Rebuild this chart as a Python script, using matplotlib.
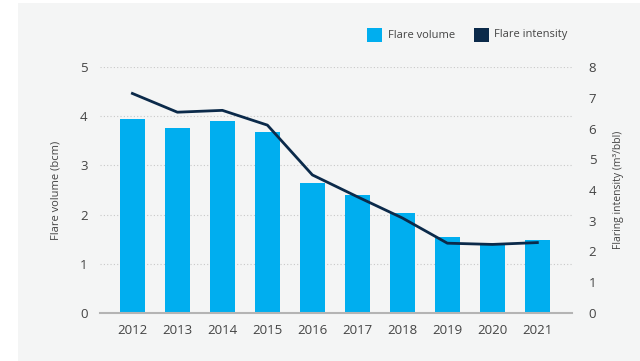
import matplotlib
matplotlib.use("Agg")
import matplotlib.pyplot as plt
from matplotlib.patches import Rectangle

plt.rcParams['font.family'] = ['Open Sans', 'DejaVu Sans']

years = ['2012', '2013', '2014', '2015', '2016', '2017', '2018', '2019', '2020', '2021']
flare_volume = [3.94, 3.76, 3.91, 3.68, 2.64, 2.40, 2.03, 1.54, 1.42, 1.48]
flare_intensity = [7.14, 6.53, 6.59, 6.11, 4.49, 3.78, 3.09, 2.27, 2.23, 2.29]
left_ticks = [0, 1, 2, 3, 4, 5]
right_ticks = [0, 1, 2, 3, 4, 5, 6, 7, 8]

BAR = '#00aeef'
LINE = '#0b2a4a'
TEXT = '#444444'
PANEL = '#f4f5f5'

W, H = 640, 361
fig = plt.figure(figsize=(W / 100, H / 100), dpi=100)
fig.patch.set_facecolor('white')
fig.add_artist(Rectangle((18 / W, 0), 1 - 18 / W, 358 / H, transform=fig.transFigure,
                         facecolor=PANEL, edgecolor='none', zorder=-10))

ax = fig.add_axes([100 / W, 48 / H, 472 / W, 246 / H])
ax.set_facecolor('none')
x = list(range(len(years)))
ax.bar(x, flare_volume, width=0.555, color=BAR, zorder=2)
ax.set_xlim(-0.72, 9.77)
ax.set_ylim(0, 5)
ax.set_yticks(left_ticks)
ax.set_xticks(x)
ax.set_xticklabels(years)
for s in ['top', 'right', 'left']:
    ax.spines[s].set_visible(False)
ax.spines['bottom'].set_color('#b4b4b4')
ax.spines['bottom'].set_linewidth(1.5)
ax.tick_params(axis='both', length=0, labelsize=9.5, labelcolor=TEXT)
ax.tick_params(axis='x', pad=8)
ax.tick_params(axis='y', pad=9)
for t in left_ticks[1:]:
    ax.axhline(t, color='#c8c8c8', lw=0.8, ls=(0, (1, 2)), zorder=1)
ax.set_ylabel('Flare volume (bcm)', fontsize=8, color=TEXT, labelpad=13)

ax2 = ax.twinx()
ax2.set_facecolor('none')
ax2.plot(x, flare_intensity, color=LINE, lw=2, zorder=3)
ax2.set_ylim(0, 8)
ax2.set_yticks(right_ticks)
for s in ax2.spines.values():
    s.set_visible(False)
ax2.tick_params(axis='y', length=0, labelsize=9.5, labelcolor=TEXT, pad=12)
ax2.set_ylabel('Flaring intensity (m³/bbl)', fontsize=7.5, color=TEXT, labelpad=12)

# legend
fig.add_artist(Rectangle((367 / W, 1 - 42 / H), 15 / W, 14 / H, transform=fig.transFigure,
                         facecolor=BAR, edgecolor='none'))
fig.text(388 / W, 1 - 35 / H, 'Flare volume', fontsize=8, color=TEXT, va='center')
fig.add_artist(Rectangle((474 / W, 1 - 42 / H), 15 / W, 14 / H, transform=fig.transFigure,
                         facecolor=LINE, edgecolor='none'))
fig.text(494 / W, 1 - 35 / H, 'Flare intensity', fontsize=8, color=TEXT, va='center')

fig.savefig('out.png', dpi=100)
